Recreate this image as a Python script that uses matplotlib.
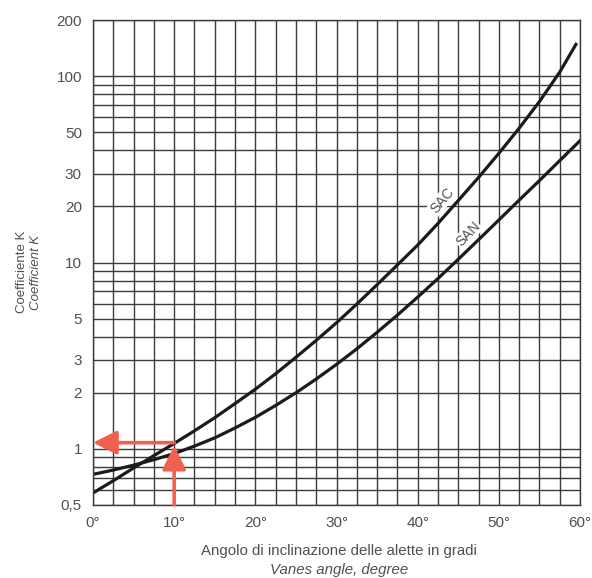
import numpy as np
import matplotlib
matplotlib.use("Agg")
import matplotlib.pyplot as plt
from matplotlib.ticker import FixedLocator, MultipleLocator, NullFormatter

plt.rcParams['font.family'] = ['Liberation Sans', 'DejaVu Sans']

# curve readings (angle in degrees, coefficient K), every 2.5 degrees
sac_angle = [0, 2.5, 5, 7.5, 10, 12.5, 15, 17.5, 20, 22.5, 25, 27.5, 30,
             32.5, 35, 37.5, 40, 42.5, 45, 47.5, 50, 52.5, 55, 57.5, 59.5]
sac_k = [0.58, 0.675, 0.79, 0.92, 1.07, 1.25, 1.47, 1.75, 2.09, 2.53, 3.1,
         3.82, 4.75, 5.98, 7.6, 9.7, 12.4, 16.2, 21.5, 28.6, 38.5, 52.5,
         73, 105, 148]
san_angle = [0, 2.5, 5, 7.5, 10, 12.5, 15, 17.5, 20, 22.5, 25, 27.5, 30,
             32.5, 35, 37.5, 40, 42.5, 45, 47.5, 50, 52.5, 55, 57.5, 60]
san_k = [0.73, 0.77, 0.818, 0.875, 0.944, 1.035, 1.146, 1.295, 1.476, 1.71,
         2.0, 2.37, 2.84, 3.44, 4.22, 5.22, 6.52, 8.2, 10.4, 13.25, 16.9,
         21.6, 27.5, 35.2, 45]

y_major = [0.5, 1, 2, 3, 5, 10, 20, 30, 50, 100, 200]
y_labels = ['0,5', '1', '2', '3', '5', '10', '20', '30', '50', '100', '200']
y_minor = [0.6, 0.7, 0.8, 0.9, 4, 6, 7, 8, 9, 40, 60, 70, 80, 90]
x_major = [0, 10, 20, 30, 40, 50, 60]

# example reading shown by the red arrows
read_angle = 10
read_k = 1.08

grid_col = '#3c3c3c'
text_col = '#505050'
red = '#f0604e'

fig = plt.figure(figsize=(5.92, 5.78), dpi=100)
ax = fig.add_axes([93 / 592, 1 - 505 / 578, 487 / 592, 485 / 578])
ax.set_yscale('log')
ax.set_xlim(0, 60)
ax.set_ylim(0.5, 200)

ax.yaxis.set_major_locator(FixedLocator(y_major))
ax.yaxis.set_minor_locator(FixedLocator(y_minor))
ax.yaxis.set_minor_formatter(NullFormatter())
ax.set_yticklabels(y_labels)
ax.xaxis.set_major_locator(FixedLocator(x_major))
ax.xaxis.set_minor_locator(MultipleLocator(2.5))
ax.set_xticklabels([f'{v}°' for v in x_major])

ax.grid(which='both', color=grid_col, lw=1.0)
ax.tick_params(which='both', length=0, labelsize=11, labelcolor=text_col)
ax.tick_params(axis='y', pad=8)
ax.tick_params(axis='x', pad=8)
for s in ax.spines.values():
    s.set_color(grid_col)
    s.set_linewidth(1.0)

ax.plot(sac_angle, sac_k, color='#1e1a18', lw=2.3)
ax.plot(san_angle, san_k, color='#1e1a18', lw=2.3)

box = dict(facecolor='white', edgecolor='none', pad=0.5)
ax.text(43.0, 21.5, 'SAC', rotation=50, fontsize=10, color=text_col,
        ha='center', va='center', bbox=box)
ax.text(46.2, 14.2, 'SAN', rotation=46, fontsize=10, color=text_col,
        ha='center', va='center', bbox=box)

arrow = dict(arrowstyle='-|>,head_length=1.2,head_width=0.6', color=red,
             lw=2.6, mutation_scale=12, shrinkA=0, shrinkB=0)
ax.annotate('', xy=(0, read_k), xytext=(read_angle, read_k),
            arrowprops=arrow, annotation_clip=False)
ax.annotate('', xy=(read_angle, 1.04), xytext=(read_angle, 0.5),
            arrowprops=arrow, annotation_clip=False)

fig.text(22 / 592, 1 - 272 / 578, 'Coefficiente K', rotation=90, fontsize=9.5,
         color=text_col, ha='center', va='center')
fig.text(36 / 592, 1 - 272 / 578, 'Coefficient K', rotation=90, fontsize=9.5,
         style='italic', color=text_col, ha='center', va='center')
fig.text(339 / 592, 1 - 551 / 578, 'Angolo di inclinazione delle alette in gradi',
         fontsize=10.8, color=text_col, ha='center', va='center')
fig.text(339 / 592, 1 - 570 / 578, 'Vanes angle, degree', fontsize=10.8,
         style='italic', color=text_col, ha='center', va='center')

fig.savefig('out.png', dpi=100)
